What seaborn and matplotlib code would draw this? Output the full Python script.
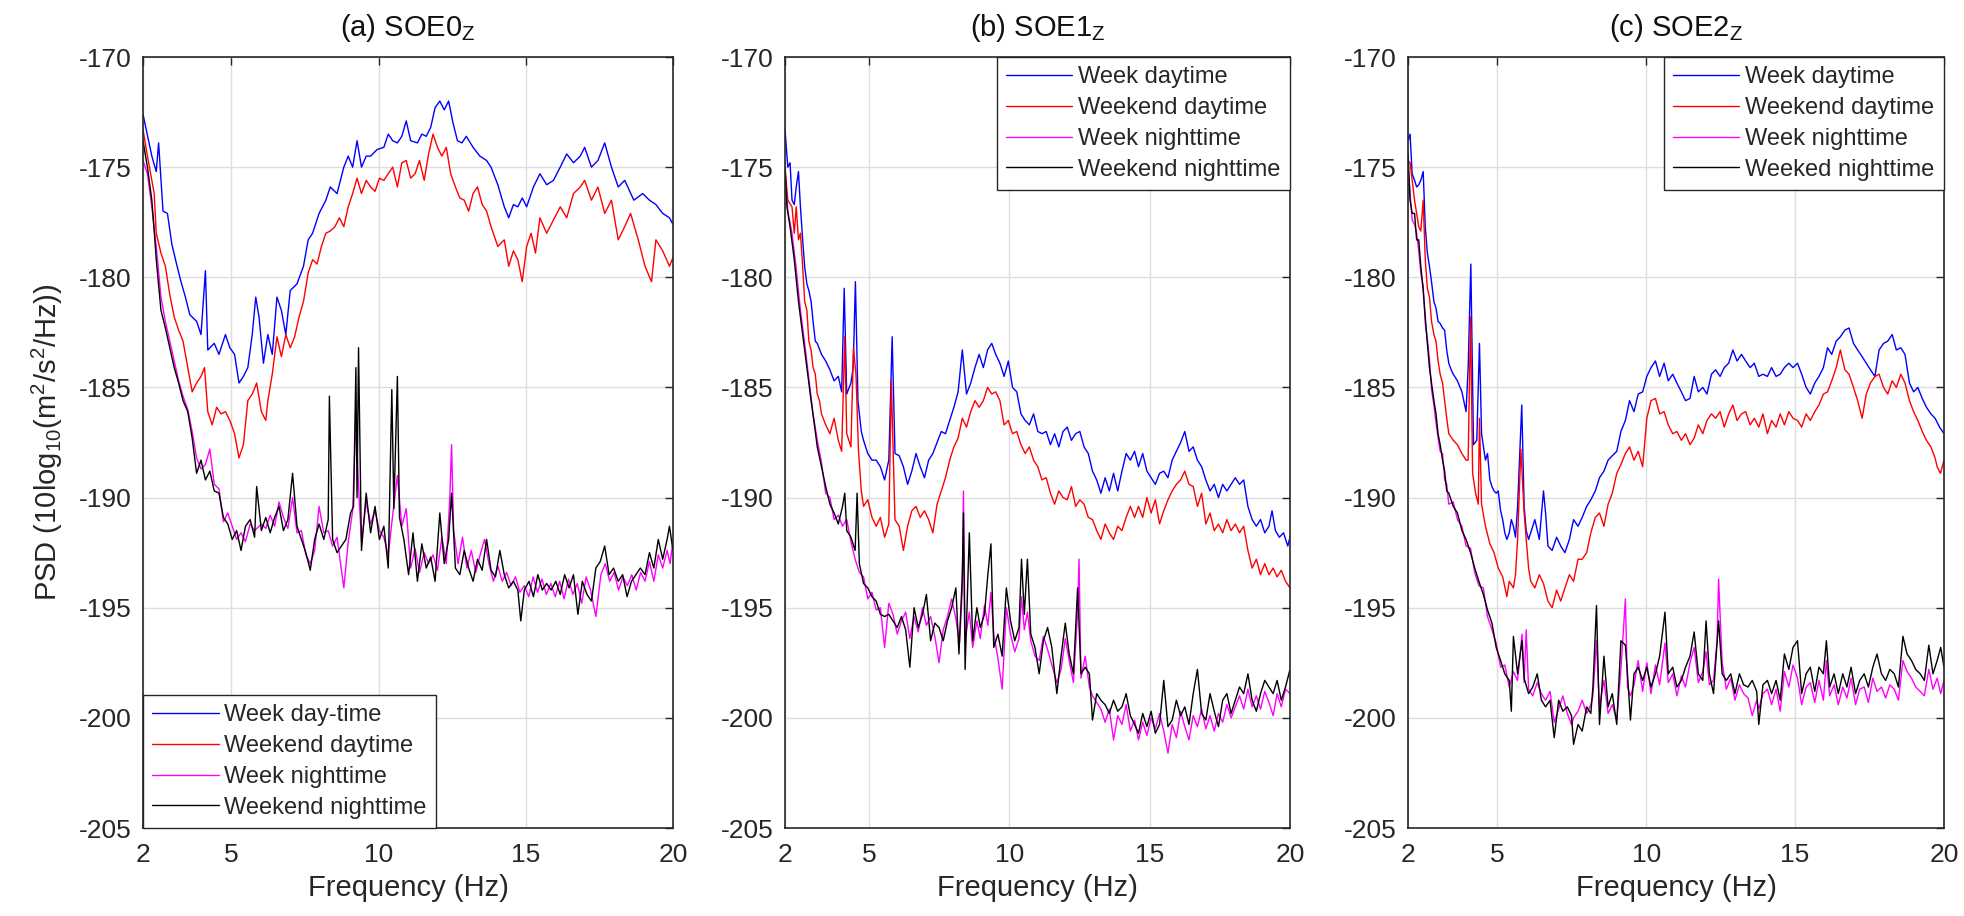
import matplotlib
matplotlib.use("Agg")
import matplotlib.pyplot as plt
import seaborn as sns
import pandas as pd

# ---------------- data (frequency in Hz, PSD in dB) ----------------
FREQ_TICKS = [2, 5, 10, 15, 20]
PSD_TICKS = [-205, -200, -195, -190, -185, -180, -175, -170]
COLORS = ["#0000ff", "#ff0000", "#ff00ff", "#000000"]
A_LABELS = ["Week day-time", "Weekend daytime", "Week nighttime", "Weekend nighttime"]
B_LABELS = ["Week daytime", "Weekend daytime", "Week nighttime", "Weekend nighttime"]
C_LABELS = ["Week daytime", "Weekend daytime", "Week nighttime", "Weeked nighttime"]
TITLES = [r"(a) SOE0$_{\mathrm{Z}}$", r"(b) SOE1$_{\mathrm{Z}}$", r"(c) SOE2$_{\mathrm{Z}}$"]

A_WEEK_DAY = [(2.00,-172.6),(2.30,-174.5),(2.45,-175.2),(2.53,-173.9),(2.68,-177.0),(2.83,-177.1),(2.98,-178.5),
(3.14,-179.4),(3.29,-180.2),(3.44,-180.9),(3.59,-181.7),(3.82,-182.0),(3.97,-182.6),(4.12,-179.7),(4.20,-183.3),
(4.42,-183.0),(4.58,-183.5),(4.80,-182.6),(4.95,-183.2),(5.11,-183.5),(5.26,-184.8),(5.41,-184.5),(5.56,-184.1),
(5.71,-182.6),(5.83,-180.9),(5.94,-181.8),(6.09,-183.9),(6.24,-182.6),(6.39,-183.5),(6.55,-180.9),(6.70,-181.5),
(6.85,-182.6),(7.00,-180.6),(7.23,-180.3),(7.45,-179.5),(7.61,-178.3),(7.76,-178.0),(7.98,-177.1),(8.21,-176.5),
(8.36,-175.9),(8.59,-176.2),(8.82,-175.0),(8.97,-174.5),(9.12,-175.0),(9.27,-173.8),(9.42,-175.0),(9.58,-174.5),
(9.73,-174.5),(9.95,-174.2),(10.18,-174.1),(10.33,-173.5),(10.48,-173.8),(10.64,-173.9),(10.79,-173.6),
(10.94,-172.9),(11.09,-173.8),(11.32,-173.9),(11.47,-173.5),(11.62,-173.6),(11.77,-173.2),(11.92,-172.3),
(12.08,-172.0),(12.23,-172.4),(12.38,-172.0),(12.53,-173.0),(12.68,-173.8),(12.83,-173.9),(12.98,-173.6),
(13.21,-174.1),(13.44,-174.5),(13.67,-174.7),(13.82,-175.0),(14.05,-175.8),(14.27,-176.8),(14.42,-177.3),
(14.58,-176.7),(14.73,-176.8),(14.88,-176.4),(15.03,-176.8),(15.26,-175.9),(15.48,-175.3),(15.71,-175.8),
(15.94,-175.6),(16.17,-175.0),(16.39,-174.4),(16.62,-174.8),(16.85,-174.5),(17.00,-174.1),(17.23,-175.0),
(17.45,-174.7),(17.68,-173.9),(17.91,-175.0),(18.14,-175.9),(18.36,-175.6),(18.67,-176.5),(18.97,-176.2),
(19.20,-176.5),(19.42,-176.7),(19.65,-177.1),(19.88,-177.3),(20.00,-177.6)]

A_WEEKEND_DAY = [(2.00,-173.3),(2.15,-174.5),(2.30,-175.6),(2.38,-176.2),(2.45,-178.0),(2.61,-178.9),(2.76,-179.5),
(2.91,-180.8),(3.06,-181.8),(3.21,-182.4),(3.36,-182.9),(3.52,-184.1),(3.67,-185.2),(3.82,-184.8),(3.97,-184.5),
(4.09,-184.1),(4.20,-186.1),(4.35,-186.7),(4.50,-185.9),(4.65,-186.2),(4.80,-186.1),(4.95,-186.5),(5.11,-187.1),
(5.26,-188.2),(5.41,-187.6),(5.56,-185.6),(5.71,-185.3),(5.86,-184.8),(6.02,-186.1),(6.17,-186.5),(6.24,-185.6),
(6.39,-184.4),(6.55,-182.7),(6.70,-183.6),(6.85,-182.6),(7.00,-183.2),(7.15,-182.7),(7.30,-181.8),(7.45,-181.1),
(7.61,-179.8),(7.76,-179.2),(7.91,-179.4),(8.06,-178.6),(8.21,-178.0),(8.36,-177.9),(8.52,-177.7),(8.67,-177.3),
(8.82,-177.7),(8.97,-176.8),(9.12,-176.2),(9.27,-175.5),(9.42,-176.2),(9.58,-175.6),(9.73,-175.9),(9.88,-176.1),
(10.03,-175.5),(10.18,-175.6),(10.33,-175.3),(10.48,-175.0),(10.64,-175.9),(10.79,-174.8),(10.94,-174.7),
(11.09,-175.5),(11.24,-175.3),(11.39,-174.7),(11.55,-175.6),(11.70,-174.4),(11.85,-173.5),(12.00,-174.1),
(12.15,-174.5),(12.30,-174.1),(12.45,-175.3),(12.61,-175.9),(12.76,-176.4),(12.91,-176.5),(13.06,-177.0),
(13.21,-176.2),(13.36,-175.9),(13.52,-176.7),(13.67,-177.0),(13.82,-177.7),(14.05,-178.6),(14.27,-178.3),
(14.42,-179.5),(14.58,-178.8),(14.73,-179.2),(14.88,-180.2),(15.03,-178.6),(15.18,-178.0),(15.33,-178.9),
(15.48,-177.3),(15.71,-178.0),(15.94,-177.4),(16.17,-176.8),(16.39,-177.3),(16.62,-176.2),(16.85,-175.9),
(17.00,-175.6),(17.23,-176.5),(17.45,-175.9),(17.68,-177.1),(17.91,-176.5),(18.14,-178.3),(18.36,-177.7),
(18.56,-177.1),(18.82,-178.3),(19.05,-179.5),(19.27,-180.2),(19.42,-178.3),(19.65,-178.8),(19.88,-179.5),
(20.00,-179.1)]

A_WEEK_NIGHT = [(2.00,-174.7),(2.15,-175.3),(2.30,-176.8),(2.45,-178.6),(2.61,-180.9),(2.76,-182.0),(2.91,-182.9),
(3.06,-183.8),(3.21,-184.7),(3.36,-185.4),(3.52,-186.0),(3.67,-187.0),(3.82,-188.2),(3.97,-188.7),(4.12,-188.5),
(4.27,-187.8),(4.42,-189.4),(4.58,-189.6),(4.73,-191.1),(4.88,-190.7),(5.03,-191.3),(5.18,-191.9),(5.33,-191.6),
(5.48,-192.0),(5.64,-191.2),(5.79,-191.5),(6.02,-191.2),(6.17,-191.4),(6.32,-190.8),(6.47,-191.3),(6.62,-190.2),
(6.77,-190.9),(6.92,-191.4),(7.08,-190.0),(7.23,-191.6),(7.38,-191.5),(7.53,-192.6),(7.68,-193.0),(7.83,-192.4),
(7.98,-190.4),(8.14,-191.6),(8.29,-191.5),(8.44,-192.2),(8.59,-191.8),(8.74,-193.3),(8.82,-194.1),(8.97,-192.0),
(9.12,-190.6),(9.23,-186.5),(9.32,-189.5),(9.42,-192.0),(9.58,-190.2),(9.73,-191.2),(9.88,-190.6),(10.03,-191.5),
(10.18,-191.8),(10.33,-192.6),(10.48,-190.8),(10.64,-189.0),(10.79,-191.3),(10.94,-190.5),(11.09,-193.2),
(11.24,-192.3),(11.39,-193.4),(11.55,-192.5),(11.70,-193.0),(11.85,-192.6),(12.00,-193.3),(12.15,-191.8),
(12.30,-193.0),(12.42,-190.0),(12.48,-187.6),(12.55,-191.5),(12.70,-193.0),(12.85,-191.8),(13.00,-193.2),
(13.15,-192.4),(13.30,-193.4),(13.45,-192.6),(13.60,-191.9),(13.75,-193.0),(13.90,-193.8),(14.05,-193.1),
(14.20,-193.8),(14.35,-193.4),(14.50,-194.0),(14.65,-193.6),(14.80,-194.3),(14.95,-194.0),(15.10,-194.5),
(15.25,-193.6),(15.40,-194.3),(15.55,-193.7),(15.70,-194.4),(15.85,-193.9),(16.00,-194.5),(16.15,-193.8),
(16.30,-194.6),(16.45,-193.7),(16.60,-194.4),(16.75,-193.9),(16.90,-194.8),(17.05,-193.6),(17.20,-194.2),
(17.38,-195.4),(17.55,-193.5),(17.70,-193.0),(17.85,-193.8),(18.00,-193.4),(18.15,-194.2),(18.30,-193.6),
(18.45,-194.0),(18.60,-193.5),(18.75,-194.2),(18.90,-193.4),(19.05,-193.8),(19.20,-192.9),(19.35,-193.8),
(19.50,-192.6),(19.65,-193.2),(19.80,-192.4),(19.90,-193.0),(20.00,-192.0)]

A_WEEKEND_NIGHT = [(2.00,-173.8),(2.15,-175.0),(2.30,-176.5),(2.38,-177.9),(2.45,-179.2),(2.61,-181.5),(2.76,-182.3),
(2.91,-183.2),(3.06,-184.1),(3.21,-184.8),(3.36,-185.6),(3.52,-186.1),(3.67,-187.3),(3.82,-188.9),(3.97,-188.3),
(4.12,-189.2),(4.27,-188.8),(4.42,-189.7),(4.58,-189.8),(4.73,-190.9),(4.88,-191.2),(5.03,-191.9),(5.18,-191.5),
(5.33,-192.4),(5.48,-191.3),(5.64,-191.0),(5.79,-191.8),(5.86,-189.5),(6.02,-191.5),(6.17,-190.9),(6.32,-191.6),
(6.47,-190.9),(6.62,-190.4),(6.77,-191.5),(6.92,-191.0),(7.08,-188.9),(7.23,-191.3),(7.38,-191.9),(7.53,-192.5),
(7.68,-193.3),(7.83,-191.9),(7.98,-191.2),(8.14,-191.9),(8.29,-191.0),(8.33,-185.4),(8.44,-191.9),(8.59,-192.5),
(8.74,-192.2),(8.89,-191.9),(9.05,-190.7),(9.15,-190.4),(9.23,-184.1),(9.27,-190.0),(9.32,-183.2),(9.42,-192.4),
(9.58,-189.8),(9.73,-191.6),(9.88,-190.4),(10.03,-191.9),(10.18,-191.3),(10.33,-193.2),(10.45,-185.1),
(10.52,-190.5),(10.64,-184.5),(10.71,-190.9),(10.86,-191.9),(11.02,-193.5),(11.17,-191.6),(11.32,-193.8),
(11.47,-192.1),(11.62,-193.2),(11.77,-192.7),(11.92,-193.8),(12.08,-190.7),(12.23,-193.0),(12.38,-191.9),
(12.48,-189.8),(12.61,-193.2),(12.76,-193.5),(12.91,-192.4),(13.06,-193.2),(13.21,-193.8),(13.36,-192.8),
(13.52,-193.3),(13.67,-191.9),(13.82,-193.3),(13.97,-193.6),(14.12,-192.4),(14.27,-193.5),(14.42,-194.1),
(14.58,-193.8),(14.73,-194.2),(14.83,-195.6),(14.95,-194.2),(15.11,-193.8),(15.26,-194.5),(15.41,-193.5),
(15.56,-194.2),(15.71,-193.9),(15.86,-194.2),(16.02,-193.8),(16.17,-194.4),(16.32,-193.5),(16.47,-194.1),
(16.62,-193.5),(16.77,-195.3),(16.92,-193.8),(17.08,-194.4),(17.23,-194.7),(17.38,-193.2),(17.53,-192.9),
(17.68,-192.2),(17.83,-193.5),(17.98,-193.2),(18.14,-193.8),(18.29,-193.5),(18.44,-194.5),(18.59,-193.8),
(18.74,-193.5),(18.89,-193.2),(19.05,-193.5),(19.20,-192.5),(19.35,-193.2),(19.50,-191.9),(19.65,-192.8),
(19.80,-191.9),(19.88,-191.3),(20.00,-192.4)]

B_WEEK_DAY = [(2.00,-173.3),(2.10,-175.0),(2.18,-174.8),(2.25,-176.5),(2.33,-176.7),(2.40,-175.9),(2.48,-175.2),
(2.55,-176.8),(2.63,-178.3),(2.70,-179.5),(2.78,-180.3),(2.85,-180.6),(2.93,-181.1),(3.00,-182.0),(3.08,-182.9),
(3.15,-183.0),(3.30,-183.5),(3.45,-183.8),(3.60,-184.2),(3.75,-184.7),(3.90,-184.5),(4.02,-185.2),(4.11,-180.5),
(4.20,-185.3),(4.35,-184.8),(4.43,-184.1),(4.51,-180.2),(4.60,-185.6),(4.72,-187.0),(4.80,-187.4),(4.95,-188.0),
(5.10,-188.3),(5.25,-188.3),(5.40,-188.6),(5.55,-189.2),(5.70,-188.3),(5.82,-182.7),(5.92,-188.0),(6.07,-188.1),
(6.22,-188.6),(6.37,-189.4),(6.52,-188.8),(6.67,-188.0),(6.82,-188.6),(6.97,-189.1),(7.12,-188.3),(7.27,-188.0),
(7.42,-187.5),(7.57,-187.0),(7.72,-187.1),(7.87,-186.5),(8.02,-185.9),(8.17,-185.2),(8.32,-183.3),(8.47,-185.3),
(8.62,-184.8),(8.77,-184.1),(8.92,-183.5),(9.07,-184.1),(9.22,-183.3),(9.37,-183.0),(9.51,-183.5),(9.66,-183.9),
(9.81,-184.5),(9.96,-183.8),(10.11,-185.0),(10.26,-185.2),(10.41,-186.2),(10.56,-186.5),(10.71,-186.7),
(10.86,-186.2),(11.01,-187.0),(11.16,-187.1),(11.31,-187.0),(11.46,-187.6),(11.61,-187.1),(11.76,-187.7),
(11.91,-187.0),(12.06,-186.8),(12.21,-187.4),(12.36,-187.1),(12.51,-187.0),(12.66,-187.7),(12.81,-188.0),
(12.96,-188.8),(13.11,-189.2),(13.26,-189.8),(13.41,-189.1),(13.56,-189.7),(13.71,-188.9),(13.86,-189.7),
(14.01,-188.8),(14.16,-188.0),(14.31,-188.3),(14.46,-187.9),(14.60,-188.6),(14.75,-188.0),(14.90,-188.8),
(15.05,-189.1),(15.20,-189.4),(15.35,-188.9),(15.50,-188.8),(15.65,-189.1),(15.80,-188.3),(15.95,-187.9),
(16.10,-187.5),(16.25,-187.0),(16.40,-187.9),(16.55,-187.7),(16.70,-188.3),(16.85,-188.6),(17.00,-189.2),
(17.15,-189.7),(17.30,-189.4),(17.45,-190.0),(17.60,-189.4),(17.75,-189.7),(17.90,-189.4),(18.05,-189.1),
(18.20,-189.4),(18.35,-189.2),(18.50,-190.4),(18.65,-191.0),(18.80,-191.3),(18.95,-191.0),(19.10,-191.6),
(19.25,-191.3),(19.36,-190.6),(19.48,-191.5),(19.62,-191.8),(19.77,-191.6),(19.92,-192.2),(20.00,-191.8)]

B_WEEKEND_DAY = [(2.00,-175.0),(2.10,-176.5),(2.25,-176.8),(2.33,-178.0),(2.40,-176.8),(2.48,-178.3),(2.55,-178.0),
(2.63,-179.5),(2.70,-181.1),(2.78,-181.5),(2.85,-182.9),(2.93,-183.3),(3.00,-184.1),(3.08,-184.4),(3.15,-185.3),
(3.23,-185.6),(3.30,-186.2),(3.45,-186.7),(3.60,-187.1),(3.75,-186.4),(3.90,-187.4),(4.02,-187.9),(4.13,-182.7),
(4.20,-187.1),(4.35,-187.7),(4.44,-183.2),(4.53,-184.4),(4.62,-187.9),(4.72,-189.7),(4.80,-190.4),(4.95,-190.1),
(5.10,-190.9),(5.25,-191.3),(5.40,-190.9),(5.55,-191.8),(5.70,-191.2),(5.79,-184.7),(5.92,-191.0),(6.07,-191.3),
(6.22,-192.4),(6.37,-191.3),(6.52,-190.6),(6.67,-190.4),(6.82,-190.9),(6.97,-190.6),(7.12,-191.0),(7.27,-191.6),
(7.42,-190.3),(7.57,-189.7),(7.72,-189.1),(7.87,-188.3),(8.02,-187.7),(8.17,-187.3),(8.32,-186.4),(8.47,-186.8),
(8.62,-186.1),(8.77,-185.6),(8.92,-185.9),(9.07,-185.6),(9.22,-185.0),(9.37,-185.3),(9.51,-185.2),(9.66,-185.6),
(9.81,-186.7),(9.96,-186.5),(10.11,-187.1),(10.26,-187.0),(10.41,-187.6),(10.56,-188.0),(10.71,-187.7),
(10.86,-188.3),(11.01,-188.6),(11.16,-189.2),(11.31,-189.1),(11.46,-189.8),(11.61,-190.3),(11.76,-189.7),
(11.91,-190.0),(12.06,-190.1),(12.21,-189.5),(12.36,-190.4),(12.51,-190.1),(12.66,-190.3),(12.81,-190.9),
(12.96,-191.0),(13.11,-191.5),(13.26,-191.9),(13.41,-191.2),(13.56,-191.6),(13.71,-191.9),(13.86,-191.3),
(14.01,-191.5),(14.16,-190.9),(14.31,-190.4),(14.46,-190.9),(14.60,-190.4),(14.75,-190.9),(14.90,-190.0),
(15.05,-190.7),(15.20,-190.1),(15.35,-191.2),(15.50,-190.6),(15.65,-190.1),(15.80,-189.7),(15.95,-189.4),
(16.10,-189.2),(16.25,-188.8),(16.40,-189.4),(16.55,-189.5),(16.70,-190.4),(16.85,-189.8),(17.00,-191.2),
(17.15,-190.7),(17.30,-191.5),(17.45,-191.2),(17.60,-191.6),(17.75,-191.0),(17.90,-191.5),(18.05,-191.2),
(18.20,-191.6),(18.35,-191.3),(18.50,-192.4),(18.65,-193.2),(18.80,-192.8),(18.95,-193.5),(19.10,-193.0),
(19.25,-193.5),(19.40,-193.2),(19.54,-193.6),(19.69,-193.3),(19.84,-193.8),(20.00,-194.1)]

B_WEEK_NIGHT = [(2.00,-175.3),(2.10,-177.0),(2.25,-178.0),(2.40,-179.6),(2.55,-181.5),(2.70,-183.0),(2.85,-184.6),
(3.00,-186.2),(3.15,-187.4),(3.30,-188.4),(3.45,-189.8),(3.60,-190.0),(3.75,-191.0),(3.90,-190.8),(4.05,-191.3),
(4.20,-191.0),(4.35,-192.0),(4.50,-192.8),(4.65,-193.4),(4.80,-193.6),(4.95,-194.6),(5.10,-194.3),(5.25,-195.1),
(5.40,-195.0),(5.55,-196.8),(5.70,-194.8),(5.85,-195.3),(6.00,-196.2),(6.15,-195.6),(6.30,-195.2),(6.45,-196.4),
(6.60,-195.4),(6.75,-196.1),(6.90,-195.0),(7.04,-195.8),(7.19,-195.4),(7.34,-196.3),(7.49,-197.5),(7.64,-196.0),
(7.79,-195.4),(7.94,-194.6),(8.09,-195.5),(8.22,-196.6),(8.32,-194.2),(8.36,-189.7),(8.42,-196.5),(8.57,-195.2),
(8.69,-196.8),(8.84,-195.6),(8.96,-196.4),(9.11,-194.9),(9.23,-195.8),(9.34,-194.3),(9.44,-196.2),(9.59,-197.3),
(9.74,-198.7),(9.89,-195.0),(10.04,-196.2),(10.19,-197.0),(10.34,-196.4),(10.43,-194.5),(10.53,-196.0),
(10.64,-195.2),(10.76,-196.5),(10.91,-197.2),(11.06,-197.4),(11.21,-196.3),(11.36,-196.9),(11.51,-197.6),
(11.69,-198.4),(11.84,-197.8),(11.99,-196.4),(12.13,-197.4),(12.28,-198.4),(12.43,-195.2),(12.48,-192.8),
(12.55,-198.2),(12.70,-197.2),(12.85,-198.6),(12.96,-199.0),(13.11,-199.3),(13.26,-199.6),(13.41,-200.2),
(13.56,-199.6),(13.71,-201.0),(13.86,-199.9),(14.01,-200.3),(14.16,-199.4),(14.31,-200.6),(14.46,-200.1),
(14.60,-201.0),(14.75,-200.2),(14.90,-200.8),(15.05,-200.0),(15.20,-200.5),(15.35,-199.8),(15.50,-200.6),
(15.65,-201.6),(15.80,-200.3),(15.95,-200.9),(16.10,-199.7),(16.25,-200.4),(16.40,-201.0),(16.55,-199.9),
(16.70,-200.4),(16.85,-199.6),(17.00,-200.5),(17.15,-199.9),(17.30,-200.6),(17.45,-199.8),(17.60,-200.2),
(17.75,-199.4),(17.90,-200.0),(18.05,-199.5),(18.20,-199.0),(18.35,-199.6),(18.50,-198.7),(18.65,-199.5),
(18.80,-199.0),(18.95,-199.6),(19.10,-198.8),(19.25,-199.3),(19.40,-199.9),(19.54,-198.9),(19.69,-199.5),
(19.84,-198.7),(20.00,-198.9)]

B_WEEKEND_NIGHT = [(2.00,-175.0),(2.07,-176.8),(2.18,-177.7),(2.33,-179.2),(2.48,-181.1),(2.63,-182.6),(2.78,-184.1),
(2.93,-185.6),(3.08,-187.0),(3.15,-187.7),(3.30,-188.6),(3.45,-189.5),(3.60,-190.3),(3.75,-190.7),(3.90,-191.2),
(4.05,-190.4),(4.13,-189.8),(4.20,-191.5),(4.35,-191.8),(4.50,-192.4),(4.57,-189.8),(4.65,-193.0),(4.80,-193.9),
(4.95,-194.1),(5.10,-194.5),(5.25,-194.7),(5.40,-195.3),(5.55,-195.4),(5.70,-195.3),(5.85,-195.6),(6.00,-195.9),
(6.15,-195.4),(6.30,-196.0),(6.45,-197.7),(6.60,-195.0),(6.75,-195.9),(6.90,-195.3),(7.04,-194.4),(7.19,-196.5),
(7.34,-195.7),(7.49,-195.9),(7.64,-196.5),(7.79,-195.6),(7.94,-195.0),(8.09,-194.1),(8.20,-197.1),(8.32,-193.5),
(8.36,-190.7),(8.42,-197.8),(8.57,-191.6),(8.69,-196.5),(8.84,-195.0),(8.96,-195.9),(9.11,-195.3),(9.23,-193.5),
(9.34,-192.1),(9.44,-196.8),(9.59,-196.2),(9.74,-197.2),(9.89,-194.1),(10.04,-195.6),(10.19,-196.5),(10.34,-195.9),
(10.43,-192.8),(10.53,-195.3),(10.64,-192.8),(10.76,-196.2),(10.91,-196.8),(11.06,-198.0),(11.21,-196.5),
(11.36,-195.9),(11.51,-196.8),(11.69,-198.9),(11.84,-197.2),(11.99,-195.7),(12.13,-197.1),(12.28,-198.0),
(12.43,-194.1),(12.55,-198.0),(12.70,-197.7),(12.85,-198.0),(12.96,-200.1),(13.11,-198.9),(13.26,-199.2),
(13.41,-199.4),(13.56,-199.8),(13.71,-199.2),(13.86,-199.7),(14.01,-199.5),(14.16,-198.9),(14.31,-199.9),
(14.46,-200.3),(14.60,-200.7),(14.75,-199.8),(14.90,-200.4),(15.05,-199.7),(15.20,-200.7),(15.35,-200.3),
(15.50,-198.3),(15.65,-200.4),(15.80,-200.1),(15.95,-199.2),(16.10,-199.9),(16.25,-199.5),(16.40,-200.3),
(16.55,-198.9),(16.70,-197.8),(16.85,-199.8),(17.00,-200.1),(17.15,-198.9),(17.30,-199.7),(17.45,-200.4),
(17.60,-199.2),(17.75,-198.9),(17.90,-199.8),(18.05,-199.2),(18.20,-198.6),(18.35,-198.9),(18.50,-198.0),
(18.65,-199.2),(18.80,-199.7),(18.95,-198.9),(19.10,-198.3),(19.25,-198.6),(19.40,-198.9),(19.54,-198.3),
(19.69,-199.2),(19.84,-198.6),(20.00,-197.8)]

C_WEEK_DAY = [(2.00,-173.8),(2.07,-173.5),(2.14,-175.3),(2.22,-175.6),(2.29,-175.9),(2.36,-175.8),(2.43,-175.6),
(2.51,-175.2),(2.58,-177.7),(2.65,-178.9),(2.72,-179.5),(2.79,-180.2),(2.87,-181.1),(2.94,-181.4),(3.01,-182.0),
(3.08,-182.1),(3.16,-182.3),(3.23,-182.4),(3.30,-183.3),(3.37,-183.9),(3.45,-184.2),(3.52,-184.4),(3.66,-184.7),
(3.81,-185.2),(3.95,-186.1),(4.02,-184.1),(4.11,-179.4),(4.20,-187.6),(4.31,-187.4),(4.40,-183.0),(4.47,-187.1),
(4.60,-188.3),(4.67,-188.0),(4.75,-189.2),(4.82,-189.5),(4.89,-189.7),(4.96,-189.8),(5.03,-189.7),(5.11,-190.6),
(5.18,-191.0),(5.25,-191.6),(5.32,-191.9),(5.40,-191.6),(5.47,-191.0),(5.54,-191.3),(5.61,-191.8),(5.68,-190.4),
(5.82,-185.8),(5.90,-190.4),(5.97,-191.5),(6.05,-191.9),(6.12,-191.6),(6.26,-191.0),(6.41,-191.9),(6.55,-189.7),
(6.62,-190.7),(6.70,-192.2),(6.84,-192.4),(6.99,-191.8),(7.13,-192.2),(7.27,-192.5),(7.42,-191.9),(7.56,-191.0),
(7.71,-191.3),(7.85,-190.9),(8.00,-190.4),(8.14,-190.1),(8.29,-189.7),(8.43,-189.1),(8.58,-188.8),(8.72,-188.3),
(8.86,-188.1),(9.01,-187.9),(9.15,-187.0),(9.30,-186.5),(9.44,-185.6),(9.59,-186.1),(9.73,-185.3),(9.88,-185.2),
(10.02,-184.5),(10.16,-184.1),(10.31,-183.8),(10.45,-184.5),(10.60,-183.9),(10.74,-184.7),(10.89,-184.4),
(11.03,-184.8),(11.18,-185.2),(11.32,-185.6),(11.47,-185.5),(11.61,-184.5),(11.75,-185.2),(11.90,-185.0),
(12.04,-185.3),(12.19,-184.4),(12.33,-184.2),(12.48,-184.5),(12.62,-184.1),(12.77,-183.9),(12.91,-183.3),
(13.05,-183.8),(13.20,-183.5),(13.34,-183.8),(13.49,-184.1),(13.63,-183.9),(13.78,-184.5),(13.92,-184.4),
(14.07,-184.5),(14.21,-184.1),(14.36,-184.5),(14.50,-184.4),(14.64,-184.1),(14.79,-183.9),(14.93,-184.1),
(15.08,-183.9),(15.22,-184.4),(15.37,-185.0),(15.51,-185.3),(15.66,-184.8),(15.80,-184.5),(15.95,-184.1),
(16.09,-183.2),(16.23,-183.5),(16.38,-182.9),(16.52,-182.7),(16.67,-182.4),(16.81,-182.3),(16.96,-183.0),
(17.10,-183.3),(17.25,-183.6),(17.39,-183.9),(17.53,-184.2),(17.68,-184.5),(17.82,-183.3),(17.97,-183.0),
(18.11,-182.9),(18.26,-182.6),(18.40,-183.3),(18.55,-183.2),(18.69,-183.5),(18.84,-184.8),(18.98,-185.2),
(19.12,-185.0),(19.27,-185.5),(19.41,-185.9),(19.56,-186.2),(19.70,-186.4),(19.85,-186.8),(20.00,-187.1)]

C_WEEKEND_DAY = [(2.00,-174.7),(2.07,-174.8),(2.14,-175.6),(2.22,-176.5),(2.29,-177.1),(2.36,-177.7),(2.43,-177.9),
(2.51,-176.5),(2.58,-179.2),(2.65,-180.5),(2.72,-180.9),(2.79,-182.0),(2.87,-182.6),(2.94,-182.9),(3.01,-183.8),
(3.08,-184.4),(3.16,-184.8),(3.23,-185.6),(3.30,-186.4),(3.37,-187.1),(3.52,-187.4),(3.66,-187.6),(3.81,-188.0),
(3.95,-188.3),(4.02,-188.3),(4.10,-181.8),(4.17,-188.9),(4.27,-189.8),(4.36,-190.3),(4.40,-186.4),(4.47,-190.3),
(4.60,-191.3),(4.75,-192.1),(4.89,-192.5),(5.03,-193.2),(5.18,-193.6),(5.32,-194.5),(5.40,-193.8),(5.54,-194.1),
(5.61,-193.5),(5.68,-191.9),(5.79,-187.8),(5.90,-190.7),(5.97,-191.9),(6.05,-193.2),(6.12,-193.8),(6.26,-194.1),
(6.41,-193.5),(6.55,-193.9),(6.70,-194.7),(6.84,-195.0),(6.99,-194.2),(7.13,-194.7),(7.27,-194.1),(7.42,-193.5),
(7.56,-193.8),(7.71,-192.8),(7.85,-192.8),(8.00,-192.5),(8.14,-191.6),(8.29,-190.9),(8.43,-190.7),(8.58,-191.3),
(8.72,-190.3),(8.86,-189.8),(9.01,-188.9),(9.15,-188.5),(9.30,-188.0),(9.44,-187.7),(9.59,-188.3),(9.73,-187.9),
(9.88,-188.6),(10.02,-186.4),(10.16,-185.6),(10.31,-185.5),(10.45,-186.2),(10.60,-186.1),(10.74,-186.7),
(10.89,-187.1),(11.03,-187.0),(11.18,-187.4),(11.32,-187.1),(11.47,-187.6),(11.61,-187.3),(11.75,-186.7),
(11.90,-187.1),(12.04,-186.5),(12.19,-186.2),(12.33,-186.4),(12.48,-186.1),(12.62,-186.8),(12.77,-186.2),
(12.91,-185.8),(13.05,-186.5),(13.20,-186.2),(13.34,-186.1),(13.49,-186.7),(13.63,-186.4),(13.78,-186.8),
(13.92,-186.2),(14.07,-187.1),(14.21,-186.5),(14.36,-186.8),(14.50,-186.2),(14.64,-186.7),(14.79,-186.1),
(14.93,-186.4),(15.08,-186.5),(15.22,-186.8),(15.37,-186.2),(15.51,-186.5),(15.66,-186.1),(15.80,-185.8),
(15.95,-185.3),(16.09,-185.2),(16.23,-184.7),(16.38,-184.1),(16.52,-183.3),(16.67,-184.2),(16.81,-184.4),
(16.96,-185.0),(17.10,-185.6),(17.25,-186.4),(17.39,-185.3),(17.53,-184.8),(17.68,-184.5),(17.82,-184.4),
(17.97,-185.0),(18.11,-185.3),(18.26,-184.7),(18.40,-185.0),(18.55,-184.4),(18.69,-184.8),(18.84,-185.6),
(18.98,-186.1),(19.12,-186.5),(19.27,-187.0),(19.41,-187.4),(19.56,-187.7),(19.70,-188.2),(19.77,-188.6),
(19.88,-188.9),(20.00,-188.3)]

C_WEEK_NIGHT = [(2.00,-174.9),(2.07,-176.2),(2.14,-177.4),(2.22,-177.6),(2.29,-178.0),(2.36,-178.8),(2.43,-179.8),
(2.51,-180.4),(2.58,-182.1),(2.65,-182.8),(2.72,-183.7),(2.79,-185.1),(2.87,-185.8),(2.94,-186.6),(3.01,-187.3),
(3.08,-187.9),(3.16,-188.0),(3.23,-189.2),(3.30,-189.4),(3.37,-190.3),(3.52,-190.2),(3.66,-191.0),(3.81,-191.3),
(3.95,-192.2),(4.10,-192.3),(4.24,-193.4),(4.38,-194.0),(4.53,-194.1),(4.67,-195.4),(4.82,-196.0),(4.96,-196.6),
(5.11,-197.7),(5.25,-197.6),(5.40,-198.6),(5.54,-197.9),(5.68,-198.3),(5.83,-196.2),(5.90,-198.4),(5.97,-196.0),
(6.05,-198.7),(6.19,-199.0),(6.34,-198.4),(6.48,-198.9),(6.62,-199.2),(6.77,-198.8),(6.91,-200.2),(7.06,-199.6),
(7.20,-199.0),(7.35,-199.8),(7.49,-200.3),(7.56,-200.0),(7.71,-199.7),(7.85,-199.2),(8.00,-199.8),(8.14,-199.4),
(8.21,-199.0),(8.33,-196.5),(8.43,-199.5),(8.58,-198.3),(8.72,-199.8),(8.86,-199.4),(9.01,-200.1),(9.15,-197.8),
(9.30,-194.6),(9.37,-198.6),(9.47,-199.0),(9.59,-198.5),(9.73,-197.4),(9.88,-198.8),(10.02,-197.5),(10.16,-198.9),
(10.31,-197.6),(10.45,-198.5),(10.63,-196.6),(10.74,-198.4),(10.89,-198.0),(11.03,-199.0),(11.18,-198.1),
(11.32,-198.6),(11.47,-197.5),(11.61,-196.8),(11.75,-198.4),(11.90,-197.9),(12.01,-197.0),(12.12,-198.5),
(12.26,-198.3),(12.38,-196.5),(12.43,-193.7),(12.55,-197.5),(12.69,-198.7),(12.84,-198.2),(12.98,-199.2),
(13.13,-198.5),(13.27,-198.9),(13.42,-199.1),(13.56,-199.9),(13.71,-199.2),(13.78,-199.6),(13.92,-198.9),
(14.07,-198.7),(14.21,-199.4),(14.36,-198.7),(14.50,-199.7),(14.64,-197.9),(14.79,-198.6),(14.93,-197.6),
(15.08,-198.2),(15.22,-199.4),(15.37,-198.6),(15.51,-198.4),(15.66,-199.3),(15.80,-198.3),(15.95,-199.2),
(16.05,-197.4),(16.16,-199.0),(16.31,-198.5),(16.45,-199.4),(16.60,-198.6),(16.74,-199.1),(16.88,-198.2),
(17.03,-199.4),(17.17,-198.7),(17.32,-198.6),(17.46,-199.3),(17.61,-198.2),(17.75,-198.8),(17.90,-198.6),
(18.04,-199.1),(18.18,-198.5),(18.33,-198.7),(18.47,-199.2),(18.62,-197.4),(18.76,-197.9),(18.91,-198.2),
(19.05,-198.6),(19.20,-198.8),(19.34,-199.0),(19.49,-197.8),(19.63,-198.7),(19.77,-198.2),(19.89,-198.9),
(20.00,-198.3)]

C_WEEKEND_NIGHT = [(2.00,-174.4),(2.07,-176.5),(2.14,-177.1),(2.22,-177.1),(2.29,-178.3),(2.36,-178.3),(2.43,-179.5),
(2.51,-180.6),(2.58,-181.8),(2.65,-183.0),(2.72,-184.1),(2.79,-184.8),(2.87,-185.6),(2.94,-186.2),(3.01,-187.1),
(3.08,-187.6),(3.16,-188.3),(3.23,-188.8),(3.30,-189.7),(3.37,-189.8),(3.52,-190.4),(3.66,-190.7),(3.81,-191.5),
(3.95,-191.9),(4.10,-192.5),(4.24,-193.2),(4.38,-193.8),(4.53,-194.4),(4.67,-195.1),(4.82,-195.7),(4.96,-196.8),
(5.11,-197.4),(5.25,-198.0),(5.40,-198.3),(5.47,-199.7),(5.54,-196.3),(5.68,-198.0),(5.83,-196.5),(5.90,-198.2),
(6.05,-198.9),(6.19,-198.6),(6.34,-198.0),(6.48,-199.2),(6.62,-199.5),(6.77,-199.2),(6.91,-200.9),(7.06,-199.2),
(7.20,-199.7),(7.35,-199.5),(7.49,-199.9),(7.56,-201.2),(7.71,-200.3),(7.85,-200.6),(8.00,-199.5),(8.14,-199.8),
(8.21,-198.6),(8.33,-194.9),(8.43,-200.3),(8.58,-197.2),(8.72,-199.5),(8.86,-198.9),(9.01,-200.3),(9.15,-196.5),
(9.30,-196.7),(9.37,-198.0),(9.47,-200.1),(9.59,-198.0),(9.73,-197.7),(9.88,-198.3),(10.02,-197.7),(10.16,-198.6),
(10.31,-198.0),(10.45,-197.2),(10.63,-195.2),(10.74,-198.0),(10.89,-197.7),(11.03,-198.6),(11.18,-198.3),
(11.32,-197.7),(11.47,-197.2),(11.61,-196.1),(11.75,-198.0),(11.90,-198.3),(12.01,-195.6),(12.12,-198.0),
(12.26,-198.9),(12.43,-195.6),(12.55,-198.0),(12.69,-198.3),(12.84,-198.0),(12.98,-198.9),(13.13,-198.0),
(13.27,-198.5),(13.42,-198.6),(13.56,-198.3),(13.71,-198.8),(13.78,-200.3),(13.92,-198.5),(14.07,-198.3),
(14.21,-198.9),(14.36,-198.3),(14.50,-199.2),(14.64,-197.1),(14.79,-197.8),(14.93,-196.8),(15.08,-196.5),
(15.22,-198.9),(15.37,-198.0),(15.51,-197.7),(15.66,-198.8),(15.80,-197.7),(15.95,-198.0),(16.05,-196.5),
(16.16,-198.6),(16.31,-198.0),(16.45,-198.9),(16.60,-198.0),(16.74,-198.6),(16.88,-197.7),(17.03,-198.9),
(17.17,-198.3),(17.32,-198.0),(17.46,-198.6),(17.61,-197.7),(17.75,-197.1),(17.90,-198.0),(18.04,-198.3),
(18.18,-197.8),(18.33,-198.0),(18.47,-198.6),(18.62,-196.3),(18.76,-197.1),(18.91,-197.4),(19.05,-197.8),
(19.20,-198.0),(19.34,-198.3),(19.49,-196.7),(19.63,-198.0),(19.77,-197.4),(19.89,-196.8),(20.00,-197.7)]

PANELS = [
    (TITLES[0], A_LABELS, [A_WEEK_DAY, A_WEEKEND_DAY, A_WEEK_NIGHT, A_WEEKEND_NIGHT], "lower left"),
    (TITLES[1], B_LABELS, [B_WEEK_DAY, B_WEEKEND_DAY, B_WEEK_NIGHT, B_WEEKEND_NIGHT], "upper right"),
    (TITLES[2], C_LABELS, [C_WEEK_DAY, C_WEEKEND_DAY, C_WEEK_NIGHT, C_WEEKEND_NIGHT], "upper right"),
]

# ---------------- style ----------------
sns.set_style("white")
plt.rcParams["font.family"] = ["Liberation Sans", "DejaVu Sans"]
plt.rcParams["mathtext.fontset"] = "custom"
plt.rcParams["mathtext.rm"] = "Liberation Sans"
plt.rcParams["mathtext.it"] = "Liberation Sans:italic"
plt.rcParams["axes.unicode_minus"] = False

DPI = 100
fig = plt.figure(figsize=(1964 / DPI, 916 / DPI), dpi=DPI)
W, H = 1964.0, 916.0
boxes = [(143, 530), (785, 505), (1408, 536)]
top_px, bot_px = 57, 828
TXT = "#262626"

for i, ((title, labels, series, loc), (x0, w)) in enumerate(zip(PANELS, boxes)):
    ax = fig.add_axes([x0 / W, (H - bot_px) / H, w / W, (bot_px - top_px) / H])
    rows = []
    for lab, data in zip(labels, series):
        for f, p in data:
            rows.append({"f": f, "psd": p, "series": lab})
    df = pd.DataFrame(rows)
    sns.lineplot(data=df, x="f", y="psd", hue="series", hue_order=labels,
                 palette=COLORS, estimator=None, sort=False, linewidth=1.0,
                 legend=False, ax=ax)
    ax.set_xlim(2, 20)
    ax.set_ylim(-205, -170)
    ax.set_xticks(FREQ_TICKS)
    ax.set_yticks(PSD_TICKS)
    ax.grid(True, color="#dedede", linewidth=1.0)
    ax.set_axisbelow(True)
    for sp in ax.spines.values():
        sp.set_visible(True)
        sp.set_color(TXT)
        sp.set_linewidth(1.2)
    ax.tick_params(direction="in", length=6, width=1.0, color=TXT,
                   top=True, right=True, labelsize=19, labelcolor=TXT)
    ax.tick_params(axis="x", pad=11)
    ax.tick_params(axis="y", pad=8)
    ax.set_xlabel("Frequency (Hz)", fontsize=21, color=TXT, labelpad=5)
    if i == 0:
        ax.set_ylabel(r"PSD (10log$_{10}$(m$^{2}$/s$^{2}$/Hz))", fontsize=21,
                      color=TXT, labelpad=10)
    else:
        ax.set_ylabel("")
    ax.set_title(title, fontsize=21, color="#111111", pad=15)
    handles = ax.get_lines()[:4]
    leg = ax.legend(handles, labels, loc=loc, fontsize=17, frameon=True,
                    fancybox=False, framealpha=1, edgecolor=TXT,
                    borderaxespad=0, borderpad=0.4, labelspacing=0.37,
                    handlelength=2.8, handletextpad=0.25)
    leg.get_frame().set_linewidth(1.0)

fig.savefig("out.png", dpi=DPI, facecolor="white")
